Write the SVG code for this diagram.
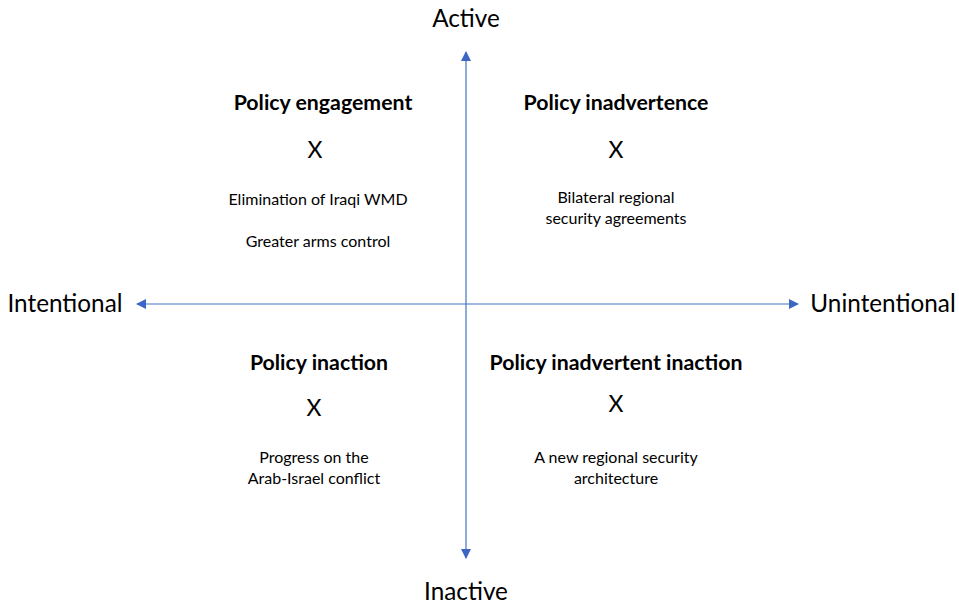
<svg xmlns="http://www.w3.org/2000/svg" width="959" height="606" viewBox="0 0 959 606">
  <style>
    text { font-family: Lato, "Open Sans", "Liberation Sans", sans-serif; fill: #000; text-anchor: middle; }
    .axis-label { font-size: 24.3px; }
    .title { font-size: 21.3px; font-weight: bold; }
    .mark { font-size: 23px; }
    .note { font-size: 16px; }
    .axis { stroke: #4472C4; stroke-width: 1.2; fill: none; marker-end: url(#arrow); }
  </style>
  <defs>
    <marker id="arrow" viewBox="0 0 10 10" refX="9" refY="5" markerWidth="10" markerHeight="10" markerUnits="userSpaceOnUse" orient="auto">
      <path d="M0,0 L10,5 L0,10 Z" fill="#3B66C4"/>
    </marker>
  </defs>
  <rect width="959" height="606" fill="#fff"/>

  <g id="connectors">
    <line class="axis" x1="466" y1="304" x2="466" y2="52"/>
    <line class="axis" x1="466" y1="304" x2="466" y2="558"/>
    <line class="axis" x1="466" y1="304" x2="137" y2="304"/>
    <line class="axis" x1="466" y1="304" x2="798" y2="304"/>
  </g>

  <g id="axis-active"><text class="axis-label" x="466" y="27">Active</text></g>
  <g id="axis-inactive"><text class="axis-label" x="466" y="600">Inactive</text></g>
  <g id="axis-intentional"><text class="axis-label" x="65" y="312">Intentional</text></g>
  <g id="axis-unintentional"><text class="axis-label" x="883" y="312">Unintentional</text></g>

  <g id="policy-engagement">
    <text class="title" x="323" y="110">Policy engagement</text>
    <text class="mark" x="315" y="158">X</text>
    <text class="note" x="318" y="205">Elimination of Iraqi WMD</text>
    <text class="note" x="318" y="247">Greater arms control</text>
  </g>

  <g id="policy-inadvertence">
    <text class="title" x="616" y="110">Policy inadvertence</text>
    <text class="mark" x="616" y="158">X</text>
    <text class="note" x="616" y="203">Bilateral regional</text>
    <text class="note" x="616" y="224">security agreements</text>
  </g>

  <g id="policy-inaction">
    <text class="title" x="319" y="370">Policy inaction</text>
    <text class="mark" x="314" y="416">X</text>
    <text class="note" x="314" y="463">Progress on the</text>
    <text class="note" x="314" y="484">Arab-Israel conflict</text>
  </g>

  <g id="policy-inadvertent-inaction">
    <text class="title" x="616" y="370">Policy inadvertent inaction</text>
    <text class="mark" x="616" y="412">X</text>
    <text class="note" x="616" y="463">A new regional security</text>
    <text class="note" x="616" y="484">architecture</text>
  </g>
</svg>
